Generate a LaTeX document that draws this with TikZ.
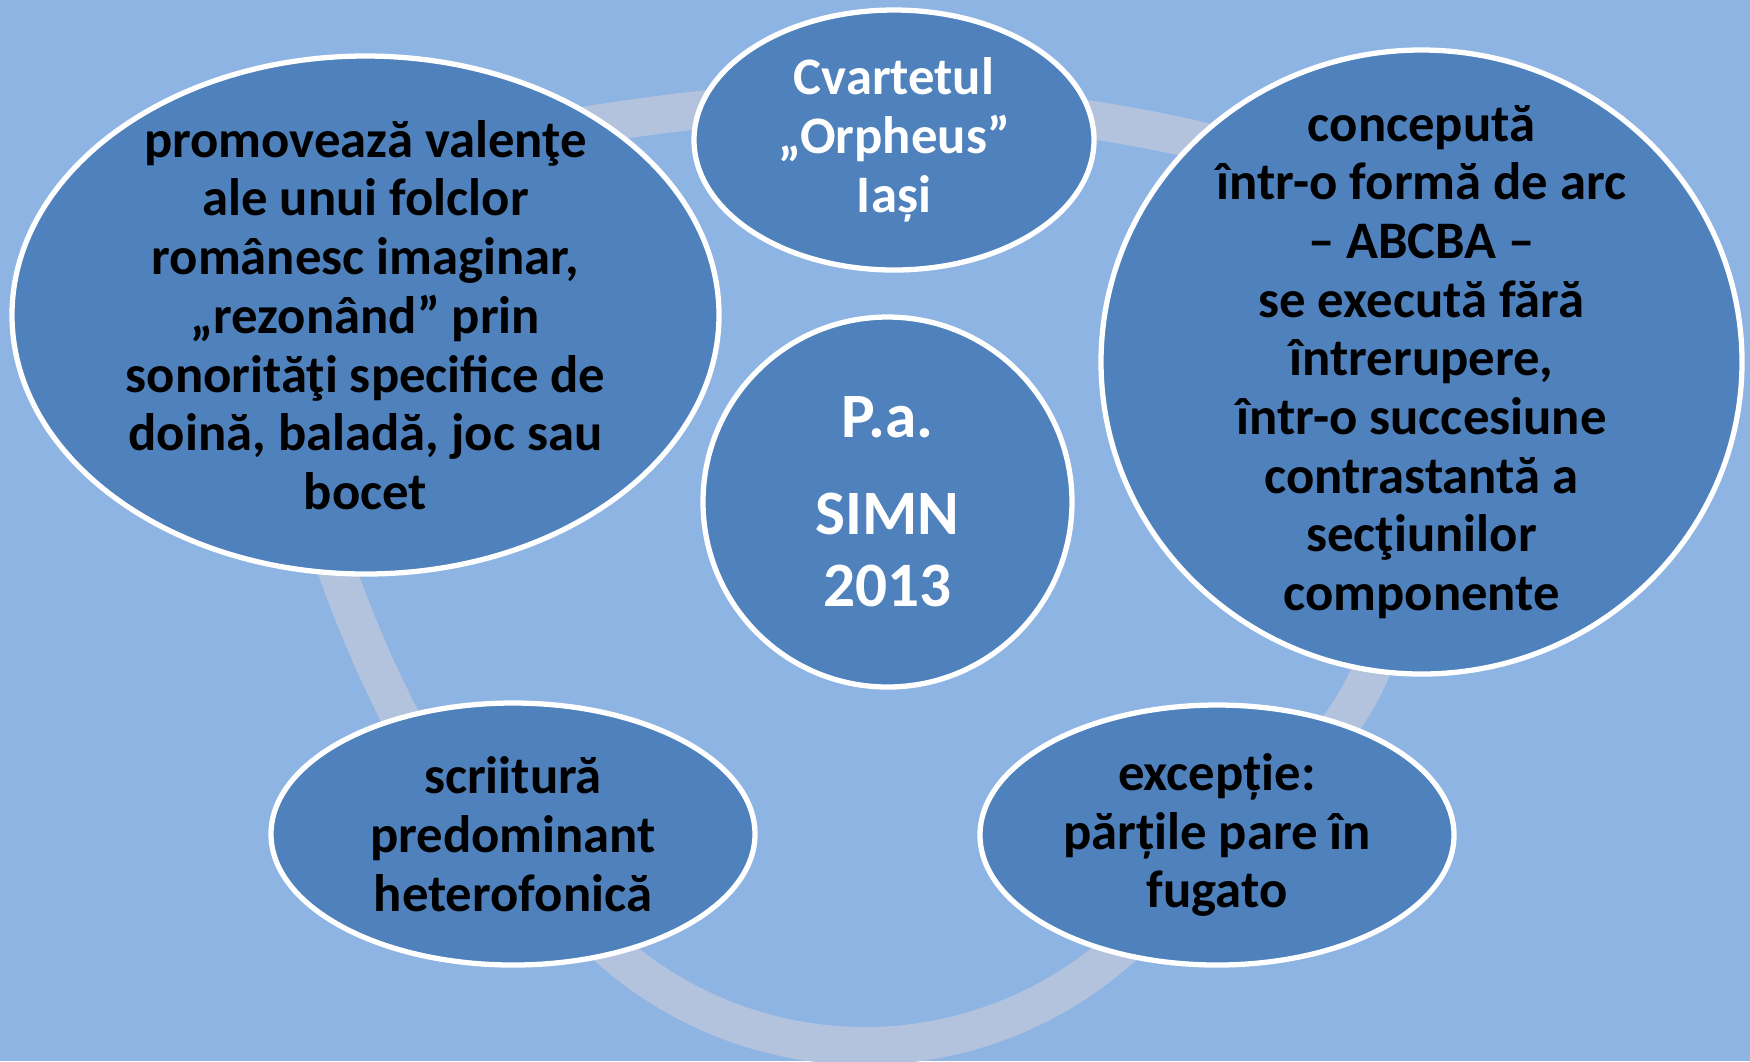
\documentclass[tikz,border=0pt]{standalone}
\usepackage{fontspec}
\setmainfont{Carlito}
\usetikzlibrary{shapes.geometric}
\definecolor{fundo}{HTML}{8EB4E3}
\definecolor{bolha}{HTML}{4F81BD}
\definecolor{anel}{HTML}{B3C3DD}
\begin{document}
\begin{tikzpicture}[x=1cm,y=-1cm,
  elipse/.style={ellipse,draw=white,line width=1.5pt,fill=bolha,inner sep=0pt},
  texto/.style={align=center,font=\fontsize{15pt}{16.7pt}\selectfont\bfseries}]
%fundo
  \fill[fundo] (0,0) rectangle (17.5,10.61);
  \useasboundingbox (0,0) rectangle (17.5,10.61);
%anel
  \draw[anel,line width=0.38cm] (8.65,10.46)
    .. controls (9.557,10.46) and (10.44,10.136) .. (11.13,9.55)
    .. controls (11.97,8.84) and (12.82,8.08) .. (13.45,7.18)
    .. controls (13.96,6.44) and (14.05,5.5) .. (14.05,4.6)
    .. controls (14.05,3.1) and (13.39,1.72) .. (11.93,1.39)
    .. controls (10.81,1.14) and (9.65,1.01) .. (8.5,1.01)
    .. controls (7.65,1.01) and (6.79,1.11) .. (5.95,1.24)
    .. controls (3.78,1.58) and (2.65,3.66) .. (3.38,5.73)
    .. controls (3.545,6.2) and (3.755,6.685) .. (3.98,7.13)
    .. controls (4.475,8.11) and (5.33,8.84) .. (6.17,9.55)
    .. controls (6.86,10.136) and (7.74,10.46) .. (8.65,10.46) -- cycle;
%elipses
  \node[elipse,minimum width=4cm,minimum height=2.6cm] (orpheus) at (8.94,1.40) {};
  \node[elipse,minimum width=7.07cm,minimum height=5.18cm] (folclor) at (3.655,3.15) {};
  \node[elipse,minimum width=6.41cm,minimum height=6.24cm] (arc) at (14.215,3.62) {};
  \node[elipse,minimum width=3.69cm,minimum height=3.70cm] (simn) at (8.875,5.02) {};
  \node[elipse,minimum width=4.84cm,minimum height=2.62cm] (scriitura) at (5.13,8.34) {};
  \node[elipse,minimum width=4.74cm,minimum height=2.60cm] (fugato) at (12.17,8.35) {};
%rotulos
  \node[texto,text=white] (orpheus-t) at (orpheus) {Cvartetul\\„Orpheus”\\Iași};
  \node[texto] (folclor-t) at (folclor) {promovează valenţe\\ale unui folclor\\românesc imaginar,\\„rezonând” prin\\sonorităţi specifice de\\doină, baladă, joc sau\\bocet};
  \node[texto] (arc-t) at (arc) {concepută\\într-o formă de arc\\– ABCBA –\\se execută fără\\întrerupere,\\într-o succesiune\\contrastantă a\\secţiunilor\\componente};
  \node[texto,text=white,font=\fontsize{18pt}{20.5pt}\selectfont\bfseries] (simn-t) at (simn) {P.a.\\[7pt]SIMN\\2013};
  \node[texto] (scriitura-t) at (scriitura) {scriitură\\predominant\\heterofonică};
  \node[texto] (fugato-t) at (fugato) {excepție:\\părțile pare în\\fugato};
\end{tikzpicture}
\end{document}
